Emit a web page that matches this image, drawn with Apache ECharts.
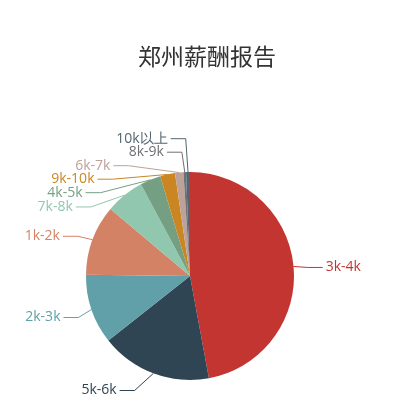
<!DOCTYPE html>
<html>
<head>
<meta charset="utf-8">
<script src="https://cdn.jsdelivr.net/npm/echarts@6/dist/echarts.min.js"></script>
<style>html,body{margin:0;padding:0;background:#fff;}#main{width:400px;height:404px;}</style>
</head>
<body>
<div id="main"></div>
<script>
var titleText = '郑州薪酬报告';
var categories = ['3k-4k', '5k-6k', '2k-3k', '1k-2k', '7k-8k', '4k-5k', '9k-10k', '6k-7k', '8k-9k', '10k以上'];
var values = [469, 172, 108, 109, 60, 32, 23, 13, 4, 6];
var palette = ['#c23531', '#2f4554', '#61a0a8', '#d48265', '#91c7ae', '#749f83', '#ca8622', '#bda29a', '#6e7074', '#546570'];

var CX = 190, CY = 276, R = 104, LEN = 17, LEN2 = 15, LABEL_H = 13.5, VIEW_H = 404, LABEL_DY = 2.5;

// Classic (ECharts 4 style) outside-label layout: labels shifted to avoid overlap and fanned along an ellipse.
function classicLabelLayout() {
  var total = values.reduce(function (a, b) { return a + b; }, 0);
  var list = [];
  var acc = 0;
  values.forEach(function (v, i) {
    var th = (acc + v / 2) / total * 2 * Math.PI;
    acc += v;
    var dx = Math.sin(th), dy = -Math.cos(th);
    var x1 = CX + R * dx, y1 = CY + R * dy;
    var x2 = x1 + dx * LEN, y2 = y1 + dy * LEN + LABEL_DY;
    var x3 = x2 + (dx < 0 ? -1 : 1) * LEN2;
    list.push({ idx: i, x: x3 + (dx < 0 ? -5 : 5), y: y2, height: LABEL_H, len: LEN, len2: LEN2,
      pts: [[x1, y1], [x2, y2], [x3, y2]] });
  });
  function adjustSingleSide(side, dir) {
    side.sort(function (a, b) { return a.y - b.y; });
    function shiftUp(end, delta) {
      for (var j = end; j >= 0; j--) {
        side[j].y -= delta;
        if (j > 0 && side[j].y > side[j - 1].y + side[j - 1].height) break;
      }
    }
    function shiftDown(start, end, delta) {
      for (var j = start; j < end; j++) {
        side[j].y += delta;
        if (j > start && j + 1 < end && side[j + 1].y > side[j].y + side[j].height) {
          shiftUp(j, delta / 2);
          return;
        }
      }
      shiftUp(end - 1, delta / 2);
    }
    function changeX(sub, isDown) {
      var last = isDown ? Number.MAX_VALUE : 0;
      for (var i = 0; i < sub.length; i++) {
        var dY = Math.abs(sub[i].y - CY);
        var rr = R + sub[i].len + sub[i].len2;
        var dX = dY < R + sub[i].len ? Math.sqrt(rr * rr - dY * dY) : Math.abs(sub[i].x - CX);
        if (isDown && dX >= last) dX = last - 10;
        if (!isDown && dX <= last) dX = last + 10;
        sub[i].x = CX + dX * dir;
        last = dX;
      }
    }
    var lastY = 0, n = side.length;
    for (var i = 0; i < n; i++) {
      var delta = side[i].y - lastY;
      if (delta < 0) shiftDown(i, n, -delta);
      lastY = side[i].y + side[i].height;
    }
    if (VIEW_H - lastY < 0) shiftUp(n - 1, lastY - VIEW_H);
    var up = [], down = [];
    side.forEach(function (l) { (l.y >= CY ? down : up).push(l); });
    changeX(up, false);
    changeX(down, true);
  }
  var left = list.filter(function (l) { return l.x < CX; });
  var right = list.filter(function (l) { return l.x >= CX; });
  adjustSingleSide(right, 1);
  adjustSingleSide(left, -1);
  var out = {};
  list.forEach(function (l) {
    var isLeft = l.x < CX;
    var p = l.pts;
    var dist = p[1][0] - p[2][0];
    p[2][0] = isLeft ? l.x + 3 : l.x - 3;
    p[1][1] = p[2][1] = l.y;
    p[1][0] = p[2][0] + dist;
    l.align = isLeft ? 'right' : 'left';
    out[l.idx] = l;
  });
  return out;
}
var labelPos = classicLabelLayout();

var chart = echarts.init(document.getElementById('main'));
chart.setOption({
  backgroundColor: '#fff',
  color: palette,
  animation: false,
  title: {
    text: titleText,
    left: 133,
    top: 40,
    textStyle: { fontSize: 23, fontWeight: 'normal', color: '#333', fontFamily: 'Noto Sans CJK SC' }
  },
  series: [{
    type: 'pie',
    radius: R,
    center: [CX, CY],
    startAngle: 90,
    clockwise: true,
    avoidLabelOverlap: false,
    label: { fontSize: 14, fontFamily: 'Open Sans', color: 'inherit' },
    labelLine: { length: LEN, length2: LEN2 },
    labelLayout: function (params) {
      var l = labelPos[params.dataIndex];
      return { x: l.x, y: l.y, align: l.align, verticalAlign: 'middle', labelLinePoints: l.pts };
    },
    itemStyle: { borderWidth: 0 },
    data: categories.map(function (c, i) { return { name: c, value: values[i] }; })
  }]
});
</script>
</body>
</html>
